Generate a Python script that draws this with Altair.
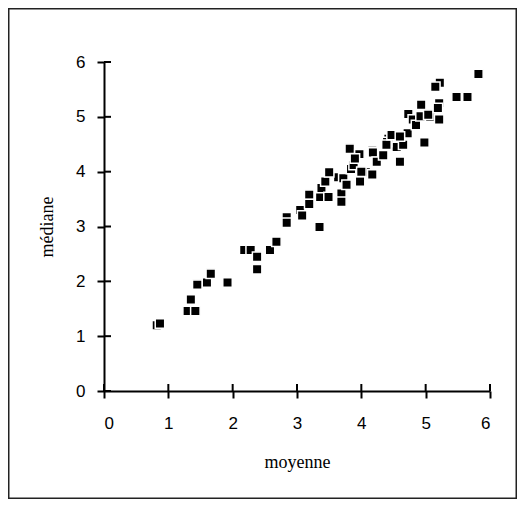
import altair as alt
import pandas as pd

# Points partly hidden under others (drawn first)
moyenne_cache = [0.82, 1.30, 1.60, 2.18, 2.84, 3.05, 3.19, 3.36, 3.38, 3.69, 3.64, 3.72,
                 3.82, 3.84, 3.88, 3.97, 4.07, 4.17, 4.42, 4.55, 4.72, 4.73, 4.80, 4.93,
                 5.07, 5.21, 5.22, 4.40]
mediane_cache = [1.20, 1.46, 1.98, 2.57, 3.17, 3.30, 3.58, 3.54, 3.70, 3.60, 3.90, 3.88,
                 4.42, 4.05, 4.12, 4.32, 3.99, 4.38, 4.60, 4.45, 4.70, 5.05, 4.95, 5.22,
                 5.00, 5.25, 5.62, 4.54]

# Fully visible points
moyenne_vis = [0.87, 1.35, 1.42, 1.45, 1.66, 1.92, 2.28, 2.38, 2.38, 2.58, 2.68, 2.84,
               3.08, 3.19, 3.35, 3.49, 3.44, 3.50, 3.69, 3.77, 3.90, 3.98, 4.00, 4.17,
               4.18, 4.24, 4.34, 4.39, 4.47, 4.60, 4.65, 4.60, 4.85, 4.92, 4.98, 5.04,
               5.15, 5.21, 5.19, 5.48, 5.65, 5.82]
mediane_vis = [1.23, 1.67, 1.46, 1.94, 2.14, 1.98, 2.57, 2.45, 2.22, 2.57, 2.72, 3.07,
               3.20, 3.41, 2.99, 3.54, 3.82, 3.99, 3.45, 3.76, 4.24, 3.82, 4.00, 3.95,
               4.35, 4.18, 4.30, 4.49, 4.67, 4.18, 4.49, 4.64, 4.85, 5.01, 4.53, 5.04,
               5.55, 4.95, 5.16, 5.36, 5.36, 5.78]

ticks = [0, 1, 2, 3, 4, 5, 6]

df = pd.DataFrame({
    "moyenne": moyenne_cache + moyenne_vis,
    "médiane": mediane_cache + mediane_vis,
})
tdf = pd.DataFrame({"t": ticks})

W, H = 386, 329
xscale = alt.Scale(domain=[0, 6], nice=False, zero=True)
yscale = alt.Scale(domain=[0, 6], nice=False, zero=True)

points = alt.Chart(df).mark_point(
    shape="square", filled=True, fill="black", stroke="white",
    strokeWidth=1.5, size=90, opacity=1
).encode(
    x=alt.X("moyenne:Q", scale=xscale, axis=alt.Axis(
        values=ticks, grid=False, tickSize=7, tickWidth=2, domainWidth=2,
        domainColor="black", tickColor="black", labelFont="Liberation Sans",
        labelFontSize=17, labelColor="black", labelPadding=17,
        title="moyenne", titleFont="Liberation Serif", titleFontSize=18,
        titleFontWeight="normal", titleColor="black", titleY=71,
        titleBaseline="middle")),
    y=alt.Y("médiane:Q", scale=yscale, axis=alt.Axis(
        values=ticks, grid=False, tickSize=7, tickWidth=2, domainWidth=2,
        domainColor="black", tickColor="black", labelFont="Liberation Sans",
        labelFontSize=17, labelColor="black", labelPadding=12,
        title="médiane", titleFont="Liberation Serif", titleFontSize=18,
        titleFontWeight="normal", titleColor="black", titleX=-57,
        titleBaseline="middle")),
)

# inward halves of the cross-shaped ticks
xticks_in = alt.Chart(tdf).mark_rule(color="black", strokeWidth=2).encode(
    x=alt.X("t:Q", scale=xscale, axis=None),
    y=alt.value(H - 7), y2=alt.value(H),
)
yticks_in = alt.Chart(tdf).mark_rule(color="black", strokeWidth=2).encode(
    y=alt.Y("t:Q", scale=yscale, axis=None),
    x=alt.value(0), x2=alt.value(7),
)

frame = alt.Chart(pd.DataFrame({"k": [0]})).mark_rect(
    fill=None, stroke="#222222", strokeWidth=1.5
).encode(
    x=alt.value(-95.25), x2=alt.value(412.25),
    y=alt.value(-53.25), y2=alt.value(436.25),
)

chart = alt.layer(frame, xticks_in, yticks_in, points).resolve_scale(
    x="independent", y="independent"
).properties(
    width=W, height=H,
    padding={"left": 96, "top": 54, "right": 27, "bottom": 108},
    autosize=alt.AutoSizeParams(type="none"),
).configure_view(stroke=None)

chart.save("out.html", embed_options={"renderer": "svg", "actions": False})
